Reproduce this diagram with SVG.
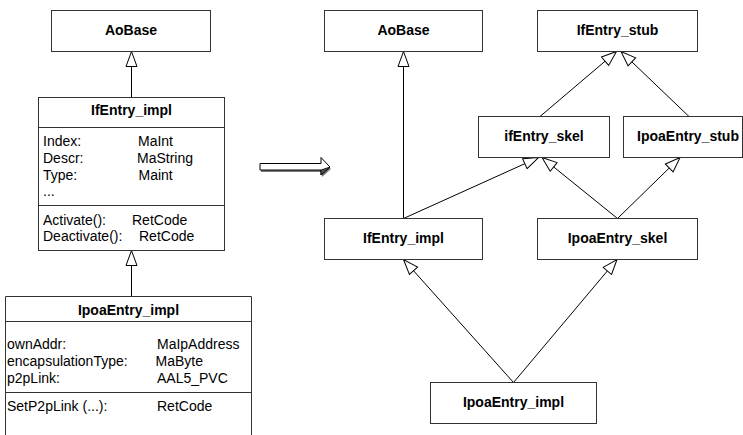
<svg xmlns="http://www.w3.org/2000/svg" width="743" height="435" viewBox="0 0 743 435">
  <style>
    .box { fill: #fff; stroke: #333; stroke-width: 1; }
    .sep { stroke: #333; stroke-width: 1; }
    .title { font-family: "Liberation Sans", Arial, sans-serif; font-size: 14px; font-weight: bold; text-anchor: middle; fill: #000; }
    .txt { font-family: "Liberation Sans", Arial, sans-serif; font-size: 14px; fill: #000; }
    .gen { stroke: #000; stroke-width: 1; fill: none; marker-end: url(#hollow); }
  </style>
  <defs>
    <!-- hollow triangle head used for generalization links -->
    <marker id="hollow" viewBox="-1 -1 17 14" refX="15" refY="6" markerWidth="17" markerHeight="14" markerUnits="userSpaceOnUse" orient="auto" overflow="visible">
      <path d="M0,0.5 L15,6 L0,11.5 Z" fill="#fff" stroke="#000" stroke-width="1"/>
    </marker>
  </defs>

  <!-- connectors -->
  <g id="connectors">
    <!-- left class chain -->
    <line class="gen" x1="131.5" y1="97.5" x2="131.5" y2="51.5"/>
    <line class="gen" x1="131.5" y1="296.5" x2="131.5" y2="250.5"/>
    <!-- right hierarchy -->
    <line class="gen" x1="403.5" y1="218.5" x2="403.5" y2="51.5"/>
    <line class="gen" x1="403.5" y1="218.5" x2="538.5" y2="157.5"/>
    <line class="gen" x1="617.5" y1="218.5" x2="542" y2="157.5"/>
    <line class="gen" x1="617.5" y1="218.5" x2="680" y2="157.5"/>
    <line class="gen" x1="540" y1="116.5" x2="616.5" y2="51.5"/>
    <line class="gen" x1="689" y1="116.5" x2="621" y2="51.5"/>
    <line class="gen" x1="513.5" y1="382.5" x2="403.5" y2="259.5"/>
    <line class="gen" x1="513.5" y1="382.5" x2="617" y2="259.5"/>
  </g>

  <!-- transformation arrow -->
  <g id="transform-arrow">
    <polygon points="261,165.5 322,165.5 322,159.5 331,169 322,177 322,172 261,172" fill="#777"/>
    <polygon points="260,163.5 321,163.5 321,157.5 330,167 321,175 321,170 260,170" fill="#fff" stroke="#000" stroke-width="1"/>
    <polygon points="321,170 330,167 321,175" fill="#555" stroke="#000" stroke-width="0.8"/>
  </g>

  <!-- left: single-class view -->
  <g id="l-aobase">
    <rect class="box" x="51.5" y="10.5" width="159" height="41"/>
    <text class="title" x="131" y="35">AoBase</text>
  </g>

  <g id="l-ifentry-impl">
    <rect class="box" x="38.5" y="97.5" width="186" height="153"/>
    <line class="sep" x1="38.5" y1="127.5" x2="224.5" y2="127.5"/>
    <line class="sep" x1="38.5" y1="205.5" x2="224.5" y2="205.5"/>
    <text class="title" x="131.5" y="115">IfEntry_impl</text>
    <text class="txt" x="43" y="146">Index:</text>
    <text class="txt" x="138" y="146">MaInt</text>
    <text class="txt" x="43" y="163">Descr:</text>
    <text class="txt" x="137" y="163">MaString</text>
    <text class="txt" x="43" y="180">Type:</text>
    <text class="txt" x="138.5" y="180">Maint</text>
    <text class="txt" x="43" y="196">...</text>
    <text class="txt" x="43" y="225">Activate():</text>
    <text class="txt" x="132" y="225">RetCode</text>
    <text class="txt" x="43" y="241">Deactivate():</text>
    <text class="txt" x="139" y="241">RetCode</text>
  </g>

  <g id="l-ipoaentry-impl">
    <path class="box" d="M5.5,440 L5.5,296.5 L251.5,296.5 L251.5,440"/>
    <line class="sep" x1="5.5" y1="321.5" x2="251.5" y2="321.5"/>
    <line class="sep" x1="5.5" y1="392.5" x2="251.5" y2="392.5"/>
    <text class="title" x="128.5" y="315">IpoaEntry_impl</text>
    <text class="txt" x="7" y="349">ownAddr:</text>
    <text class="txt" x="157" y="349">MaIpAddress</text>
    <text class="txt" x="7" y="366">encapsulationType:</text>
    <text class="txt" x="155.5" y="366">MaByte</text>
    <text class="txt" x="7" y="383">p2pLink:</text>
    <text class="txt" x="157" y="383">AAL5_PVC</text>
    <text class="txt" x="7" y="411">SetP2pLink (...):</text>
    <text class="txt" x="157" y="411">RetCode</text>
  </g>

  <!-- right: generated class hierarchy -->
  <g id="r-aobase">
    <rect class="box" x="324.5" y="10.5" width="158" height="41"/>
    <text class="title" x="403.5" y="35">AoBase</text>
  </g>
  <g id="r-ifentry-stub">
    <rect class="box" x="537.5" y="10.5" width="160" height="41"/>
    <text class="title" x="617.5" y="35">IfEntry_stub</text>
  </g>
  <g id="r-ifentry-skel">
    <rect class="box" x="478.5" y="116.5" width="131" height="41"/>
    <text class="title" x="544" y="141">ifEntry_skel</text>
  </g>
  <g id="r-ipoaentry-stub">
    <rect class="box" x="623.5" y="116.5" width="119" height="41"/>
    <text class="title" x="688" y="141">IpoaEntry_stub</text>
  </g>
  <g id="r-ifentry-impl">
    <rect class="box" x="324.5" y="218.5" width="158" height="41"/>
    <text class="title" x="403.5" y="243">IfEntry_impl</text>
  </g>
  <g id="r-ipoaentry-skel">
    <rect class="box" x="537.5" y="218.5" width="160" height="41"/>
    <text class="title" x="617.5" y="243">IpoaEntry_skel</text>
  </g>
  <g id="r-ipoaentry-impl">
    <rect class="box" x="430.5" y="382.5" width="166" height="41"/>
    <text class="title" x="513.5" y="407">IpoaEntry_impl</text>
  </g>
</svg>
